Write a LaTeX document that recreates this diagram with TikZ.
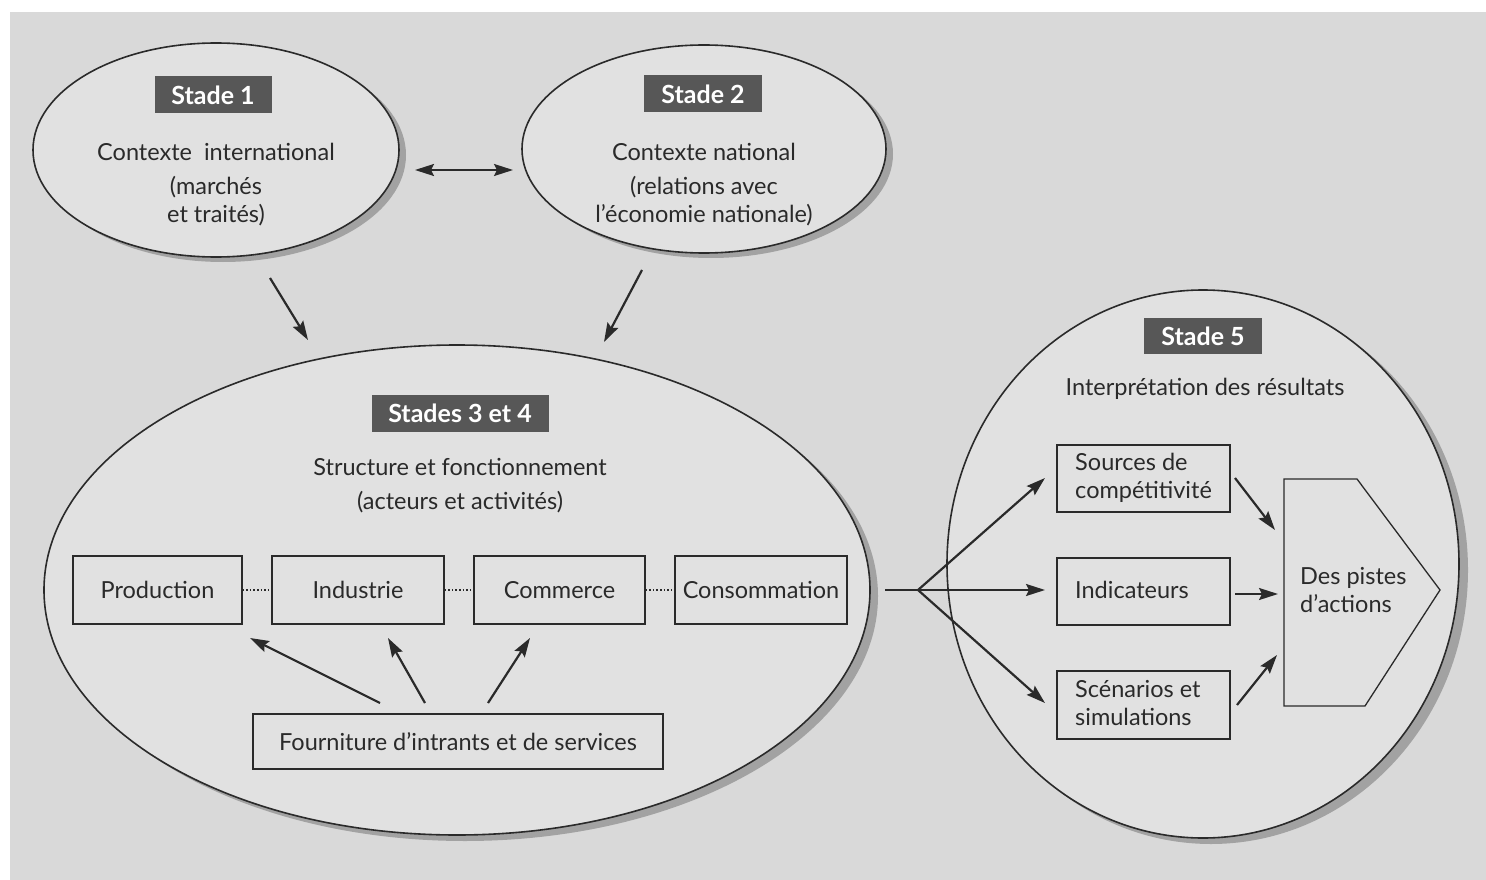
\documentclass[tikz,border=0pt]{standalone}
\usepackage{fontspec}
\setmainfont{Lato}
\usetikzlibrary{shapes.geometric,arrows.meta}
\definecolor{paper}{HTML}{D9D9D9}
\definecolor{inside}{HTML}{E1E1E1}
\definecolor{shade}{HTML}{A2A2A2}
\definecolor{ink}{HTML}{2A2A2A}
\definecolor{tag}{HTML}{575757}
\tikzset{
  oval/.style={ellipse,draw=ink,line width=1.6pt,fill=inside,inner sep=0pt},
  ovalshadow/.style={ellipse,fill=shade,draw=none,inner sep=0pt},
  stagetag/.style={fill=tag,text=white,font=\fontsize{25}{27}\selectfont\bfseries,
    minimum height=37pt,inner sep=0pt},
  lbl/.style={text=ink,font=\fontsize{23.5}{26}\selectfont,inner sep=0pt},
  boxed/.style={draw=ink,line width=1.3pt,inner sep=0pt,text=ink,
    font=\fontsize{23.5}{26}\selectfont},
  arr/.style={draw=ink,line width=2.2pt,-{Stealth[length=19pt,width=12pt,inset=3pt]}},
  twoarr/.style={draw=ink,line width=2.2pt,{Stealth[length=19pt,width=12pt,inset=3pt]}-{Stealth[length=19pt,width=12pt,inset=3pt]}},
  link/.style={draw=ink,line width=1.6pt,dash pattern=on 1.6pt off 2pt},
}
\begin{document}
\begin{tikzpicture}[x=1pt,y=-1pt]
% page and grey ground
\fill[white] (0,0) rectangle (1486,880);
\fill[paper] (10,12) rectangle (1486,880);
\useasboundingbox (0,0) rectangle (1486,880);

% shadows of the ovals
\node[ovalshadow,minimum width=366pt,minimum height=214pt] at (223,155) {};
\node[ovalshadow,minimum width=364pt,minimum height=208pt] at (711,154) {};
\node[ovalshadow,minimum width=826pt,minimum height=490pt] at (465,596) {};
\node[ovalshadow,minimum width=514pt,minimum height=548pt] at (1211,570) {};

% ovals
\node[oval,minimum width=366pt,minimum height=214pt] (e1) at (216,150) {};
\node[oval,minimum width=364pt,minimum height=208pt] (e2) at (704,149) {};
\node[oval,minimum width=826pt,minimum height=490pt] (e34) at (457,590) {};
\node[oval,minimum width=512pt,minimum height=548pt] (e5) at (1203,564) {};

% stage 1
\node[stagetag,minimum width=117pt] (s1) at (213,95) {Stade 1};
\node[lbl] (t1a) at (216,152) {Contexte\ \ international};
\node[lbl] (t1b) at (216,187) {(marchés};
\node[lbl] (t1c) at (216,215) {et traités)};

% stage 2
\node[stagetag,minimum width=118pt] (s2) at (703,94) {Stade 2};
\node[lbl] (t2a) at (704,152) {Contexte national};
\node[lbl] (t2b) at (704,187) {(relations avec};
\node[lbl] (t2c) at (704,215) {l’économie nationale)};

% stages 3 and 4
\node[stagetag,minimum width=177pt] (s34) at (460,413) {Stades 3 et 4};
\node[lbl] (t34a) at (460,467) {Structure et fonctionnement};
\node[lbl] (t34b) at (460,502) {(acteurs et activités)};

\node[boxed,minimum width=169pt,minimum height=68pt] (prod) at (157.5,590) {Production};
\node[boxed,minimum width=172pt,minimum height=68pt] (ind) at (358,590) {Industrie};
\node[boxed,minimum width=171pt,minimum height=68pt] (com) at (559.5,590) {Commerce};
\node[boxed,minimum width=172pt,minimum height=68pt] (cons) at (761,590) {Consommation};
\node[boxed,minimum width=410pt,minimum height=55pt] (four) at (458,741.5) {Fourniture d’intrants et de services};

\draw[link] (prod.east) -- (ind.west);
\draw[link] (ind.east) -- (com.west);
\draw[link] (com.east) -- (cons.west);

% stage 5
\node[stagetag,minimum width=118pt,minimum height=36pt] (s5) at (1203,336) {Stade 5};
\node[lbl] (t5) at (1205,389) {Interprétation des résultats};

\node[boxed,minimum width=173pt,minimum height=67pt] (src) at (1143.5,478.5) {};
\node[lbl,anchor=west,align=left] at (1075,478) {Sources de\\[2pt]compétitivité};
\node[boxed,minimum width=173pt,minimum height=67pt] (indic) at (1143.5,591.5) {};
\node[lbl,anchor=west] at (1075,590) {Indicateurs};
\node[boxed,minimum width=173pt,minimum height=68pt] (scen) at (1143.5,705) {};
\node[lbl,anchor=west,align=left] at (1075,703) {Scénarios et\\[2pt]simulations};

\draw[ink,line width=1.3pt] (1284,479) coordinate (pw) -- (1357,479) -- (1440,590) coordinate (ptip)
  -- (1365,706) -- (1284,706) -- cycle;
\node[lbl,anchor=west,align=left] (tp) at (1300,590) {Des pistes\\[2pt]d’actions};

% connector ends
\coordinate (a12) at (415,170);
\coordinate (b12) at (513,170);
\coordinate (a1) at (270,278);
\coordinate (b1) at (308,340);
\coordinate (a2) at (642,270);
\coordinate (b2) at (604,342);
\coordinate (fa) at (380,703);
\coordinate (fb) at (425,703);
\coordinate (fc) at (488,703);
\coordinate (pa) at (250,638);
\coordinate (pb) at (388,638);
\coordinate (pc) at (530,638);
\coordinate (out) at (885,590);
\coordinate (fork) at (918,590);
\coordinate (ra) at (1045,478);
\coordinate (rb) at (1045,590);
\coordinate (rc) at (1045,703);
\coordinate (qa1) at (1235,478);
\coordinate (qa2) at (1275,530);
\coordinate (qb1) at (1235,594);
\coordinate (qb2) at (1278,594);
\coordinate (qc1) at (1237,705);
\coordinate (qc2) at (1277,655);

% connectors
\draw[twoarr] (a12) -- (b12);
\draw[arr] (a1) -- (b1);
\draw[arr] (a2) -- (b2);
\draw[arr] (fa) -- (pa);
\draw[arr] (fb) -- (pb);
\draw[arr] (fc) -- (pc);
\draw[ink,line width=2.2pt] (out) -- (fork);
\draw[arr] (fork) -- (ra);
\draw[arr] (fork) -- (rb);
\draw[arr] (fork) -- (rc);
\draw[arr] (qa1) -- (qa2);
\draw[arr] (qb1) -- (qb2);
\draw[arr] (qc1) -- (qc2);
\end{tikzpicture}
\end{document}
